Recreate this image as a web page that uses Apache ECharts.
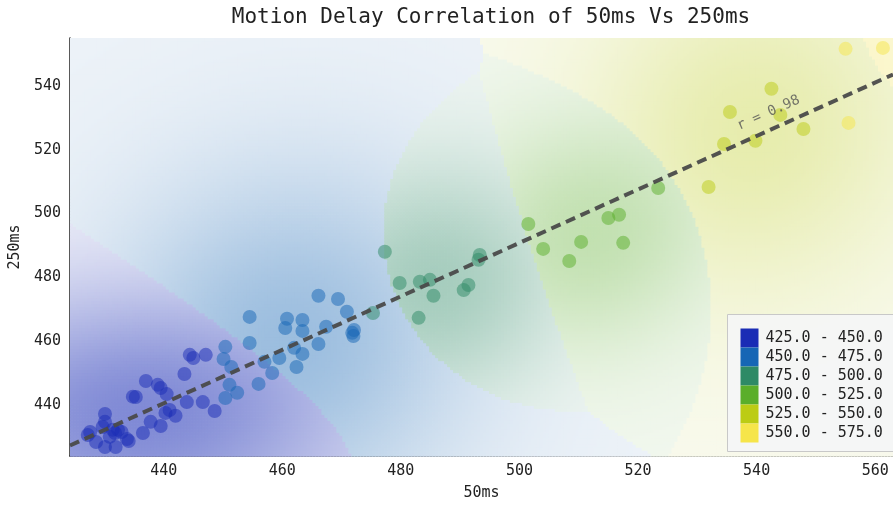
<!DOCTYPE html>
<html><head><meta charset="utf-8">
<script src="https://cdn.jsdelivr.net/npm/echarts@6/dist/echarts.min.js"></script>
<style>html,body{margin:0;padding:0;background:#fff}#c{width:893px;height:509px}</style>
</head><body><div id="c"></div>
<script>
// ---- data ----
const x50 = [
 444.4,445.0,447.1,443.5,437.0,439.0,439.5,440.5,435.3,434.8,443.9,446.6,448.6,441.0,440.3,442.0,437.8,439.5,436.5,
 430.1,430.1,429.7,431.4,432.3,432.9,433.8,434.1,427.6,427.2,428.6,430.1,431.9,430.9,431.8,
 466.1,469.4,470.9,472.1,471.8,472.0,467.4,466.1,463.4,460.8,460.5,463.4,462.0,463.4,462.4,459.5,458.3,456.0,457.0,
 454.5,454.5,450.4,450.1,451.4,451.1,452.4,450.4,
 475.3,477.3,479.8,483.2,484.9,485.5,483.0,490.6,491.4,493.1,493.3,
 501.5,504.0,508.4,510.4,515.0,516.8,517.5,523.4,
 531.9,534.5,535.5,539.8,542.5,544.0,547.9,
 555.0,561.3,555.5
];
const y250 = [
 455.7,454.7,455.7,449.7,447.5,446.3,445.3,443.4,442.5,442.6,440.9,440.9,438.1,438.4,437.5,436.6,434.7,433.4,431.2,
 437.2,434.7,433.1,432.2,432.2,431.5,429.3,428.7,431.5,430.6,428.4,426.8,426.8,430.0,431.2,
 474.2,473.2,469.2,463.5,462.6,461.6,464.5,459.1,466.6,467.0,464.1,463.2,457.9,456.0,451.9,454.7,450.0,446.6,453.5,
 467.6,459.4,458.2,454.4,451.9,446.3,443.8,442.2,
 468.8,488.0,478.2,478.6,479.2,474.2,467.3,476.0,477.6,485.5,487.0,
 496.7,488.9,485.1,491.1,498.6,499.6,490.8,508.0,
 508.3,521.8,531.8,522.8,539.1,530.9,526.5,
 551.6,551.9,528.4
];
const binEdges = [425, 450, 475, 500, 525, 550, 575];
const binColors = ['#1a2cb5', '#1666b5', '#2e8a66', '#5aae2a', '#bccc14', '#f6e54a'];
const binLabels = ['425.0 - 450.0','450.0 - 475.0','475.0 - 500.0','500.0 - 525.0','525.0 - 550.0','550.0 - 575.0'];
const titleText = 'Motion Delay Correlation of 50ms Vs 250ms';
const xName = '50ms', yName = '250ms';
const X_MIN = 424.2, X_MAX = 563, Y_MIN = 424, Y_MAX = 555;
const FONT = 'DejaVu Sans Mono';

// ---- regression ----
const N = x50.length;
const mx = x50.reduce((a,b)=>a+b,0)/N, my = y250.reduce((a,b)=>a+b,0)/N;
let sxx=0, syy=0, sxy=0;
for (let i=0;i<N;i++){const dx=x50[i]-mx, dy=y250[i]-my; sxx+=dx*dx; syy+=dy*dy; sxy+=dx*dy;}
const slope = sxy/sxx, intercept = my - slope*mx;
const rVal = sxy/Math.sqrt(sxx*syy);
const fit = x => intercept + slope*x;

// ---- background: per-range kernel density, strongest range wins the cell ----
function binOf(v){for(let k=0;k<binEdges.length-1;k++){if(v<binEdges[k+1])return k;}return binEdges.length-2;}
const SX = 826/(X_MAX-X_MIN), SY = 418/(Y_MAX-Y_MIN);   // screen-like metric for the kernels
const HX = [132, 100, 70, 68, 95, 70];
const HY = [70, 100, 70, 68, 95, 70];
const W = [1.4, 1.0, 1.6, 1.3, 1.0, 1.0];
const AMAXC = [0.55, 0.42, 0.42, 0.36, 0.34, 0.28];
const AMIN = 0.07, G = 0.7;
const P = x50.map((v,i)=>[v*SX, y250[i]*SY, binOf(v)]);
function hex2rgb(h){return [parseInt(h.substr(1,2),16),parseInt(h.substr(3,2),16),parseInt(h.substr(5,2),16)];}
const RGB = binColors.map(hex2rgb);
const BASE=[253,253,253];
const NX=275, NY=140;
const dxc=(X_MAX-X_MIN)/NX, dyc=(Y_MAX-Y_MIN)/NY;
const field=[]; const dmaxC=[0,0,0,0,0,0];
for(let i=0;i<NX;i++)for(let j=0;j<NY;j++){
  const qx=(X_MIN+(i+0.5)*dxc)*SX, qy=(Y_MIN+(j+0.5)*dyc)*SY;
  const D=[0,0,0,0,0,0];
  for(let m=0;m<N;m++){
    const c=P[m][2], ex=(qx-P[m][0])/HX[c], ey=(qy-P[m][1])/HY[c];
    D[c]+=W[c]*Math.exp(-(ex*ex+ey*ey)/2);
  }
  for(let k=0;k<6;k++) if(D[k]>dmaxC[k]) dmaxC[k]=D[k];
  let best=0; for(let k=1;k<6;k++) if(D[k]>D[best]) best=k;
  field.push([X_MIN+i*dxc, Y_MIN+j*dyc, X_MIN+(i+1)*dxc, Y_MIN+(j+1)*dyc, best, D[best]]);
}
const cellColors = field.map(f=>{
  const k=f[4];
  const al=AMIN+(AMAXC[k]-AMIN)*Math.pow(f[5]/dmaxC[k],G); const c=RGB[k];
  return 'rgb('+c.map((v,q)=>Math.round(BASE[q]*(1-al)+v*al)).join(',')+')';
});

const chart = echarts.init(document.getElementById('c'), null, {renderer:'canvas'});
chart.setOption({
  animation:false,
  backgroundColor:'#ffffff',
  title:{text:titleText, left:486, top:2, textAlign:'center',
    textStyle:{fontFamily:FONT, fontSize:21, fontWeight:'normal', color:'#222'}},
  grid:{left:67, right:0, top:38, bottom:53, show:true, backgroundColor:'rgb(234,238,244)', borderWidth:0},
  xAxis:{type:'value', min:X_MIN, max:X_MAX, splitNumber:7,
    name:xName, nameLocation:'middle', nameGap:30,
    nameTextStyle:{fontFamily:FONT, fontSize:15, color:'#222'},
    axisLine:{show:true, lineStyle:{color:'#222', width:1.5}},
    axisTick:{show:true, inside:true, length:4, lineStyle:{color:'#444'}},
    axisLabel:{showMinLabel:false, showMaxLabel:false, fontFamily:FONT, fontSize:15, color:'#222', margin:8},
    splitLine:{show:false}},
  yAxis:{type:'value', min:Y_MIN, max:Y_MAX, splitNumber:6,
    name:yName, nameLocation:'middle', nameGap:41,
    nameTextStyle:{fontFamily:FONT, fontSize:15, color:'#222'},
    axisLine:{show:true, lineStyle:{color:'#222', width:1.5}},
    axisTick:{show:true, inside:true, length:4, lineStyle:{color:'#444'}},
    axisLabel:{showMinLabel:false, showMaxLabel:false, fontFamily:FONT, fontSize:15, color:'#222', margin:9},
    splitLine:{show:false}},
  visualMap:{type:'piecewise', seriesIndex:1, dimension:0, orient:'vertical', inverse:true, align:'left',
    left:727, top:314, itemWidth:18, itemHeight:19, itemGap:0, textGap:7, itemSymbol:'rect',
    padding:[14,20,9,13], backgroundColor:'rgba(244,246,248,0.85)', borderColor:'#c8c8c8', borderWidth:1,
    textStyle:{fontFamily:FONT, fontSize:15, color:'#222'},
    pieces: binLabels.map((l,k)=>({gte:binEdges[k], lt:binEdges[k+1], label:l, color:binColors[k]}))},
  series:[
    {type:'custom', silent:true, progressive:0, z:1,
      data: field.map((f,k)=>[f[0],f[1],f[2],f[3],k]),
      encode:{x:[0,2], y:[1,3]},
      renderItem:(params, api)=>{
        const p0=api.coord([api.value(0),api.value(3)]), p1=api.coord([api.value(2),api.value(1)]);
        return {type:'rect', shape:{x:p0[0], y:p0[1], width:p1[0]-p0[0]+0.7, height:p1[1]-p0[1]+0.7},
          style:{fill:cellColors[api.value(4)]}};
      }},
    {type:'scatter', z:3, symbolSize:14, data:x50.map((v,i)=>[v,y250[i]]),
      itemStyle:{opacity:0.5}},
    {type:'line', z:4, symbol:'none', data:[[X_MIN,fit(X_MIN)],[X_MAX,fit(X_MAX)]],
      lineStyle:{color:'#4a4a4a', width:4, type:[10,6], opacity:0.95}},
    {type:'scatter', z:5, symbolSize:0, silent:true, data:[[542,531.5]],
      label:{show:true, position:'inside', rotate:24, formatter:'r = '+rVal.toFixed(2),
        fontFamily:FONT, fontSize:14, color:'#555'}}
  ]
});
</script></body></html>
